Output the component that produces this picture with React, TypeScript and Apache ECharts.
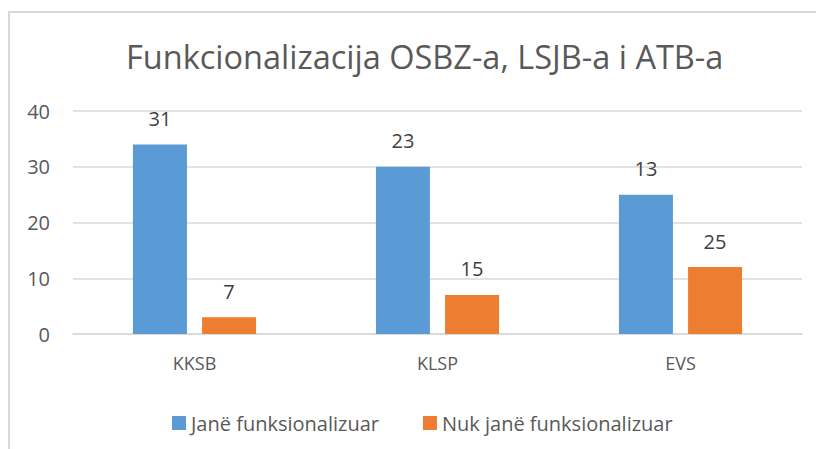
import React, { useEffect, useRef } from "react";
import * as echarts from "echarts";

const title = "Funkcionalizacija OSBZ-a, LSJB-a i ATB-a";
const categories = ["KKSB", "KLSP", "EVS"];
const seriesNames = ["Janë funksionalizuar", "Nuk janë funksionalizuar"];
// bar heights as drawn
const barFunksionale = [34, 30, 25];
const barJoFunksionale = [3, 7, 12];
// data labels as printed
const labelFunksionale = [31, 23, 13];
const labelJoFunksionale = [7, 15, 25];
const yTicks = [0, 10, 20, 30, 40];

const FONT = "'Open Sans', 'Noto Sans', sans-serif";

export default function App() {
  const ref = useRef<HTMLDivElement>(null);
  useEffect(() => {
    const chart = echarts.init(ref.current!, null, { renderer: "svg" });
    const mkLabel = (labels: number[]) => ({
      show: true,
      position: "top",
      distance: 16,
      fontSize: 20,
      fontFamily: FONT,
      color: "#404040",
      formatter: (p: any) => String(labels[p.dataIndex]),
    });
    chart.setOption({
      animation: false,
      backgroundColor: "#ffffff",
      title: {
        text: title,
        left: 121,
        top: 35,
        textStyle: { fontSize: 32.5, fontWeight: "normal", color: "#595959", fontFamily: FONT },
      },
      legend: {
        left: 167,
        top: 408,
        itemWidth: 14,
        itemHeight: 14,
        itemGap: 44,
        icon: "rect",
        textStyle: { fontSize: 20, color: "#595959", fontFamily: FONT },
        data: seriesNames,
      },
      grid: { left: 73, right: 14, top: 111, bottom: 115 },
      xAxis: {
        type: "category",
        data: categories,
        axisLine: { show: true, lineStyle: { color: "#d9d9d9", width: 1.5 } },
        axisTick: { show: false },
        axisLabel: { fontSize: 18, color: "#595959", fontFamily: FONT, margin: 20 },
      },
      yAxis: {
        type: "value",
        min: yTicks[0],
        max: yTicks[yTicks.length - 1],
        interval: 10,
        axisLine: { show: false },
        axisTick: { show: false },
        splitLine: { lineStyle: { color: "#d9d9d9", width: 1.5 } },
        axisLabel: { fontSize: 20, color: "#595959", fontFamily: FONT, margin: 23 },
      },
      graphic: [
        { type: "line", shape: { x1: 9, y1: 11, x2: 9, y2: 449 }, style: { stroke: "#d9d9d9", lineWidth: 2 } },
        { type: "line", shape: { x1: 8, y1: 12, x2: 816, y2: 12 }, style: { stroke: "#d9d9d9", lineWidth: 2 } },
      ],
      series: [
        {
          name: seriesNames[0],
          type: "bar",
          data: barFunksionale,
          barWidth: 54,
          barGap: "28%",
          itemStyle: { color: "#5B9BD5" },
          label: mkLabel(labelFunksionale),
        },
        {
          name: seriesNames[1],
          type: "bar",
          data: barJoFunksionale,
          barWidth: 54,
          barGap: "28%",
          itemStyle: { color: "#ED7D31" },
          label: mkLabel(labelJoFunksionale),
        },
      ],
    });
    return () => chart.dispose();
  }, []);
  return (
    <div
      ref={ref}
      style={{ position: "absolute", left: 0, top: 0, width: 816, height: 449 }}
    />
  );
}
